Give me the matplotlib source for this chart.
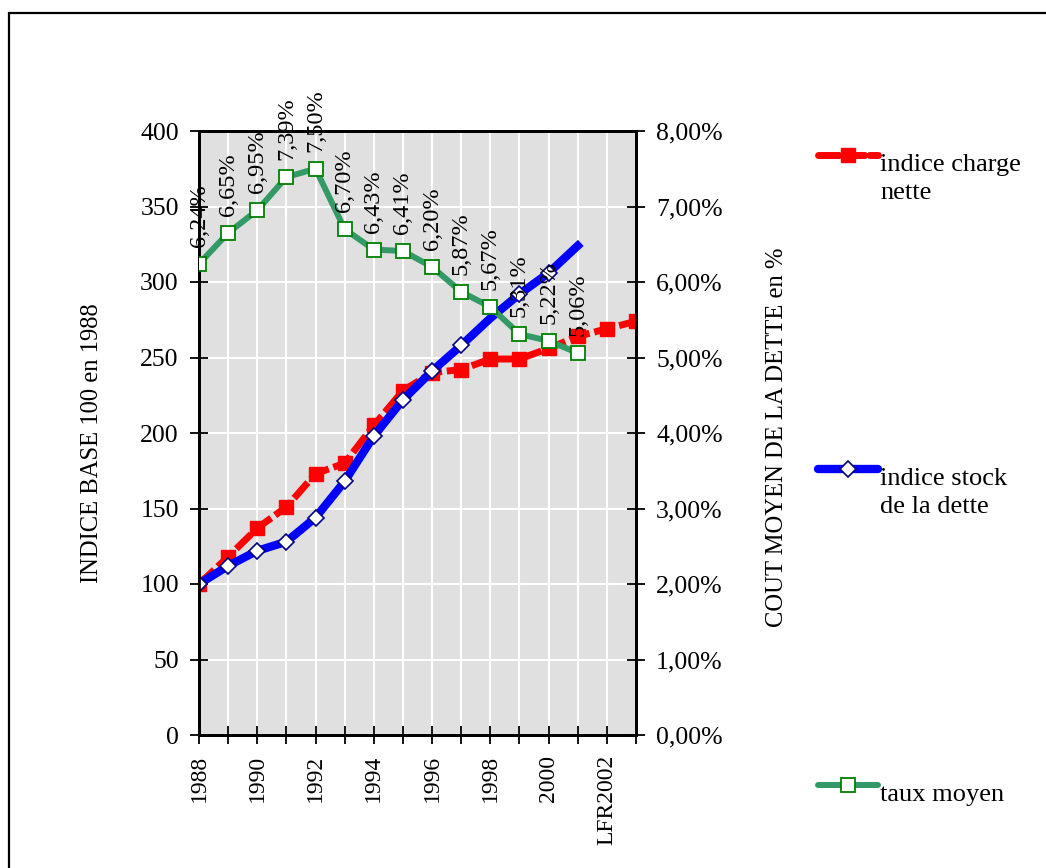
import matplotlib
matplotlib.use("Agg")
import matplotlib.pyplot as plt
from matplotlib.lines import Line2D
from matplotlib.patches import Rectangle
from matplotlib.ticker import FuncFormatter

plt.rcParams['font.family'] = ['Liberation Serif', 'DejaVu Serif']

# categories (last one has no visible label)
years = ['1988', '1989', '1990', '1991', '1992', '1993', '1994', '1995',
         '1996', '1997', '1998', '1999', '2000', '2001', 'LFR2002', '']

# indice charge nette (base 100 en 1988)
charge_nette = [100, 118, 137, 151, 173, 180, 205, 228, 240, 242, 249, 249,
                256, 264, 269, 274]
# indice stock de la dette
stock_dette = [100, 112, 122, 128, 144, 168, 198, 222, 241, 258, 276, 292,
               306, 324]
# taux moyen (%)
taux_moyen = [6.24, 6.65, 6.95, 7.39, 7.50, 6.70, 6.43, 6.41, 6.20, 5.87,
              5.67, 5.31, 5.22, 5.06]

W, H = 1046, 868

red_style = dict(color='#ff0000', lw=5, ls=(0, (3, 0.7)), marker='s',
                 ms=9.5, mfc='#ff0000', mec='#ff0000', mew=1)
blue_style = dict(color='#0000ff', lw=6, marker='D', ms=8.5, mfc='white',
                  mec='#000080', mew=1.2)
green_style = dict(color='#339966', lw=4.3, marker='s', ms=10, mfc='white',
                   mec='#008000', mew=1.3)

fig = plt.figure(figsize=(W / 100, H / 100), dpi=100)
ax = fig.add_axes([199 / W, 1 - 735 / H, 437 / W, 604 / H])
ax.set_facecolor('#e0e0e0')

x_red = range(len(charge_nette))
x_blue = range(len(stock_dette))
x_green = range(len(taux_moyen))

ax.plot(x_red, charge_nette, zorder=3, **red_style)
# markers for 1998 and 2001 are not visible on the blue line
ax.plot(x_blue, stock_dette, zorder=4,
        markevery=[i for i in x_blue if i not in (10, 13)], **blue_style)

ax.set_xlim(0, len(years) - 1)
ax.set_ylim(0, 400)
ax.set_yticks(range(0, 401, 50))
ax.set_xticks(range(len(years)))
ax.set_xticklabels([y if i % 2 == 0 else '' for i, y in enumerate(years)],
                   rotation=90, fontsize=17)
ax.grid(True, color='white', lw=1.5)
ax.set_axisbelow(True)

ax2 = ax.twinx()
ax2.plot(x_green, taux_moyen, zorder=3, **green_style)
ax2.set_ylim(0, 8)
ax2.set_yticks(range(0, 9))
ax2.yaxis.set_major_formatter(
    FuncFormatter(lambda v, p: f"{v:.2f}%".replace('.', ',')))

for i, v in zip(x_green, taux_moyen):
    ax2.annotate(f"{v:.2f}%".replace('.', ','), (i, v), xytext=(0, 17),
                 textcoords='offset pixels', rotation=90, ha='center',
                 va='bottom', fontsize=17.5, zorder=5)

for a in (ax, ax2):
    for s in a.spines.values():
        s.set_linewidth(2)
        s.set_color('black')
    a.tick_params(direction='inout', length=13, width=1.3, labelsize=18.5,
                  pad=8)
ax.tick_params(axis='x', labelsize=17, pad=8)

fig.text(92 / W, 1 - 443 / H, 'INDICE BASE 100 en 1988', rotation=90,
         ha='center', va='center', fontsize=17.7)
fig.text(777 / W, 1 - 437 / H, 'COUT MOYEN DE LA DETTE en %', rotation=90,
         ha='center', va='center', fontsize=17.7)


def legend_key(y_px, label, style):
    y = 1 - y_px / H
    xs = [818 / W, 848 / W, 878 / W]
    ln = Line2D(xs, [y] * 3, transform=fig.transFigure, markevery=[1],
                solid_capstyle='round', dash_capstyle='round', **style)
    fig.add_artist(ln)
    fig.text(880 / W, 1 - (y_px - 1) / H, label, ha='left', va='top',
             fontsize=19, linespacing=1.35)


legend_key(155, 'indice charge\nnette', red_style)
legend_key(469, 'indice stock\nde la dette', blue_style)
legend_key(785, 'taux moyen', green_style)

# outer chart frame (runs past the right and bottom edges)
fig.add_artist(Rectangle((9 / W, -0.1), 1.2, 1 - 13 / H + 0.1,
                         transform=fig.transFigure, fill=False,
                         ec='black', lw=1.6))

fig.savefig('out.png', dpi=100)
